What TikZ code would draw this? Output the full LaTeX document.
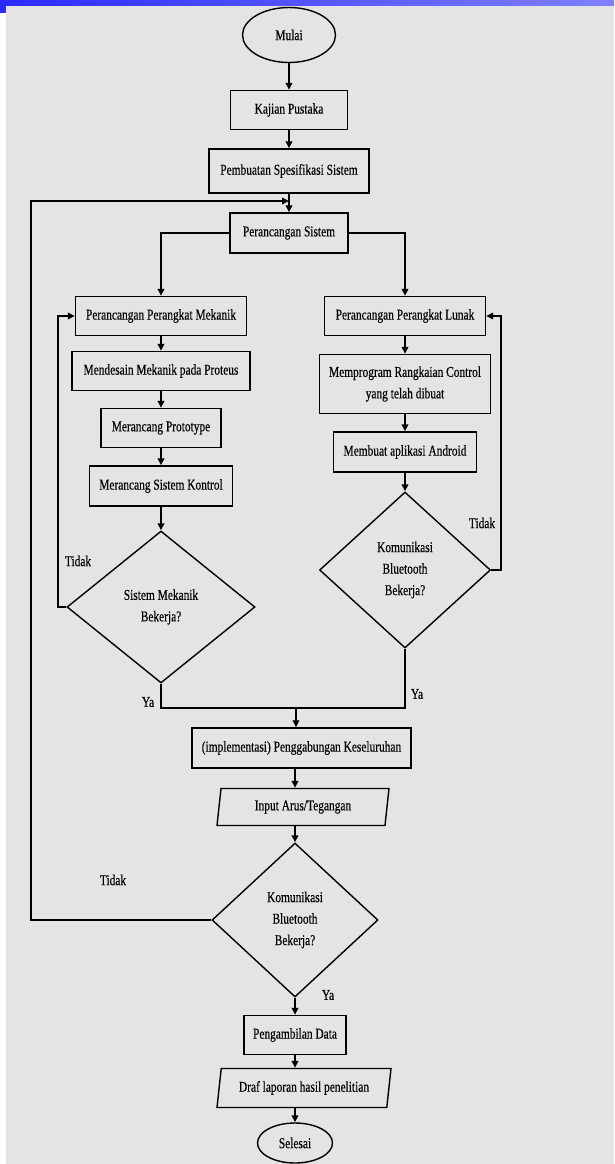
\documentclass[tikz,border=0pt]{standalone}
\usepackage{fontspec}
\setmainfont{Liberation Serif}[FakeStretch=0.76,FakeBold=0.35]
\usetikzlibrary{shapes.geometric,arrows.meta,calc}
\definecolor{bg}{HTML}{E4E4E4}
\definecolor{blueL}{HTML}{2A2AFF}
\definecolor{blueR}{HTML}{8080FF}
\begin{document}
\begin{tikzpicture}[x=1pt,y=-1pt,
 font=\fontsize{15}{21.5}\selectfont,
 box/.style={draw, line width=1.4pt, rectangle, inner sep=0pt, align=center},
 dec/.style={draw, diamond, line width=1.4pt, inner sep=0pt, align=center},
 term/.style={draw, ellipse, line width=1.4pt, inner sep=0pt},
 io/.style={draw, trapezium, trapezium left angle=73, trapezium right angle=107, trapezium stretches body, line width=1.4pt, inner sep=0pt},
 arr/.style={line width=1.8pt, -{Triangle[length=7pt,width=6.5pt]}},
 ln/.style={line width=1.8pt},
 lab/.style={inner sep=0pt}]
\useasboundingbox (0,0) rectangle (614,1164);
\fill[white] (0,0) rectangle (614,1164);
\fill[bg] (6,6) rectangle (614,1164);
\shade[left color=blueL, right color=blueR] (0,0) rectangle (614,6);
\fill[blueL] (0,0) rectangle (6,13);

\node[term, minimum width=93pt, minimum height=55pt] (start) at (289,35) {Mulai};
\node[box, minimum width=117pt, minimum height=39pt] (kp) at (289,110) {Kajian Pustaka};
\node[box, minimum width=160pt, minimum height=44pt] (spec) at (289,171) {Pembuatan Spesifikasi Sistem};
\node[box, minimum width=118pt, minimum height=40pt] (ps) at (289,233) {Perancangan Sistem};
\node[box, minimum width=171pt, minimum height=39pt] (mek) at (161,316) {Perancangan Perangkat Mekanik};
\node[box, minimum width=178pt, minimum height=39pt] (prot) at (161,371) {Mendesain Mekanik pada Proteus};
\node[box, minimum width=120pt, minimum height=39pt] (proto) at (161,428) {Merancang Prototype};
\node[box, minimum width=143pt, minimum height=40pt] (ktrl) at (161,486) {Merancang Sistem Kontrol};
\node[dec, minimum width=188pt, minimum height=152pt] (d1) at (161,607) {Sistem Mekanik\\Bekerja?};
\node[box, minimum width=161pt, minimum height=39pt] (lun) at (405,316) {Perancangan Perangkat Lunak};
\node[box, minimum width=171pt, minimum height=59pt] (prog) at (405,384) {Memprogram Rangkaian Control\\yang telah dibuat};
\node[box, minimum width=143pt, minimum height=40pt] (andr) at (405,452) {Membuat aplikasi Android};
\node[dec, minimum width=171pt, minimum height=156pt] (d2) at (405,570) {Komunikasi\\Bluetooth\\Bekerja?};
\node[box, minimum width=219pt, minimum height=40pt] (impl) at (301.5,748) {(implementasi) Penggabungan Keseluruhan};
\node[io, minimum width=172pt, minimum height=37pt] (inp) at (303,807) {Input Arus/Tegangan};
\node[dec, minimum width=166pt, minimum height=154pt] (d3) at (295,920) {Komunikasi\\Bluetooth\\Bekerja?};
\node[box, minimum width=102pt, minimum height=39pt] (data) at (295,1035) {Pengambilan Data};
\node[io, minimum width=174pt, minimum height=39pt] (draf) at (304,1088) {Draf laporan hasil penelitian};
\node[term, minimum width=75pt, minimum height=40pt] (end) at (295,1143) {Selesai};

\coordinate (j1) at (289,201);
\coordinate (lp) at (31,201);
\coordinate (m) at (296,708);

\draw[arr] (start) -- (kp);
\draw[arr] (kp) -- (spec);
\draw[ln] (spec.south) -- (j1);
\draw[arr] (j1) -- (ps.north);
\draw[arr] (ps.west) -| (mek.north);
\draw[arr] (ps.east) -| (lun.north);
\draw[arr] (mek) -- (prot);
\draw[arr] (prot) -- (proto);
\draw[arr] (proto) -- (ktrl);
\draw[arr] (ktrl) -- (d1);
\draw[arr] (lun) -- (prog);
\draw[arr] (prog) -- (andr);
\draw[arr] (andr) -- (d2);
\draw[arr] (d1.west) -- ++(-8,0) |- (mek.west);
\draw[arr] (d2.east) -- ++(10,0) |- (lun.east);
\draw[ln] (d1.south) |- (m) -| (d2.south);
\draw[arr] (m) -- (m |- impl.north);
\draw[arr] (impl.south -| d3.north) -- (inp.north -| d3.north);
\draw[arr] (inp.south -| d3.north) -- (d3.north);
\draw[arr] (d3.west) -| (lp) -- (j1);
\draw[arr] (d3.south) -- (data.north);
\draw[arr] (data.south) -- (data.south |- draf.north);
\draw[arr] (data.south |- draf.south) -- (end.north);

\node[lab] (t1) at (78,561) {Tidak};
\node[lab] (y1) at (148,702) {Ya};
\node[lab] (t2) at (482,523) {Tidak};
\node[lab] (y2) at (417,694) {Ya};
\node[lab] (t3) at (113,880) {Tidak};
\node[lab] (y3) at (328,995) {Ya};
\end{tikzpicture}
\end{document}
